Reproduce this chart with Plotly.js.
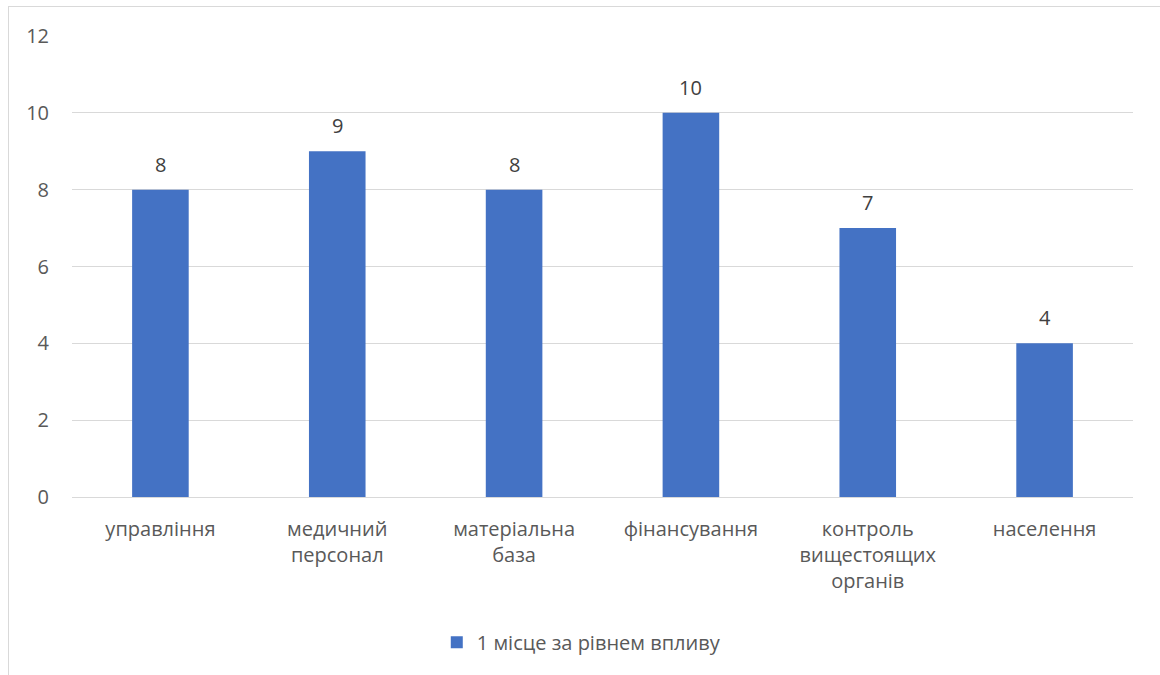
<!DOCTYPE html>
<html>
<head>
<meta charset="utf-8">
<script src="https://cdn.plot.ly/plotly-3.0.1.min.js"></script>
<style>
  html, body { margin: 0; padding: 0; background: #fff; }
  #frame { position: absolute; left: 8px; top: 6px; width: 1170px; height: 700px; border: 1px solid #d9d9d9; box-sizing: border-box; }
  #chart { position: absolute; left: 0; top: 0; width: 1160px; height: 675px; }
</style>
</head>
<body>
<div id="frame"></div>
<div id="chart"></div>
<script>
// Factors ranked first by level of influence
const categories = ["управління", "медичний<br>персонал", "матеріальна<br>база", "фінансування", "контроль<br>вищестоящих<br>органів", "населення"];
const values = [8, 9, 8, 10, 7, 4];
const seriesName = "1 місце за рівнем впливу";
const yTicks = [0, 2, 4, 6, 8, 10, 12];

const textColor = "#595959";
const fontFamily = "'Open Sans', 'Noto Sans', sans-serif";
const fontSize = 20;

const trace = {
  type: "bar",
  x: categories,
  y: values,
  name: seriesName,
  marker: { color: "#4472C4" },
  width: 0.32
};

// value labels above each bar
const valueLabels = categories.map((c, i) => ({
  x: c,
  y: values[i],
  xref: "x",
  yref: "y",
  text: String(values[i]),
  showarrow: false,
  yanchor: "bottom",
  yshift: 10,
  font: { family: fontFamily, size: fontSize, color: "#404040" }
}));

const layout = {
  width: 1160,
  height: 675,
  margin: { l: 72, r: 27, t: 36, b: 178 },
  paper_bgcolor: "rgba(0,0,0,0)",
  plot_bgcolor: "rgba(0,0,0,0)",
  font: { family: fontFamily, size: fontSize, color: textColor },
  showlegend: true,
  legend: {
    orientation: "h",
    x: 0.48, xanchor: "center",
    y: -0.315, yanchor: "middle",
    font: { family: fontFamily, size: fontSize, color: textColor },
    itemwidth: 30
  },
  annotations: valueLabels,
  xaxis: {
    type: "category",
    showgrid: false,
    showline: true,
    linecolor: "#d9d9d9",
    linewidth: 1,
    ticks: "",
    ticklabelstandoff: 14,
    tickfont: { family: fontFamily, size: fontSize, color: textColor }
  },
  yaxis: {
    range: [0, 12],
    tickvals: yTicks,
    ticktext: yTicks.map(String),
    gridcolor: "#d9d9d9",
    gridwidth: 1,
    zeroline: false,
    showline: false,
    ticks: "",
    ticklabelstandoff: 22,
    tickfont: { family: fontFamily, size: fontSize, color: textColor }
  }
};

Plotly.newPlot("chart", [trace], layout, { displayModeBar: false, staticPlot: true });
</script>
</body>
</html>
